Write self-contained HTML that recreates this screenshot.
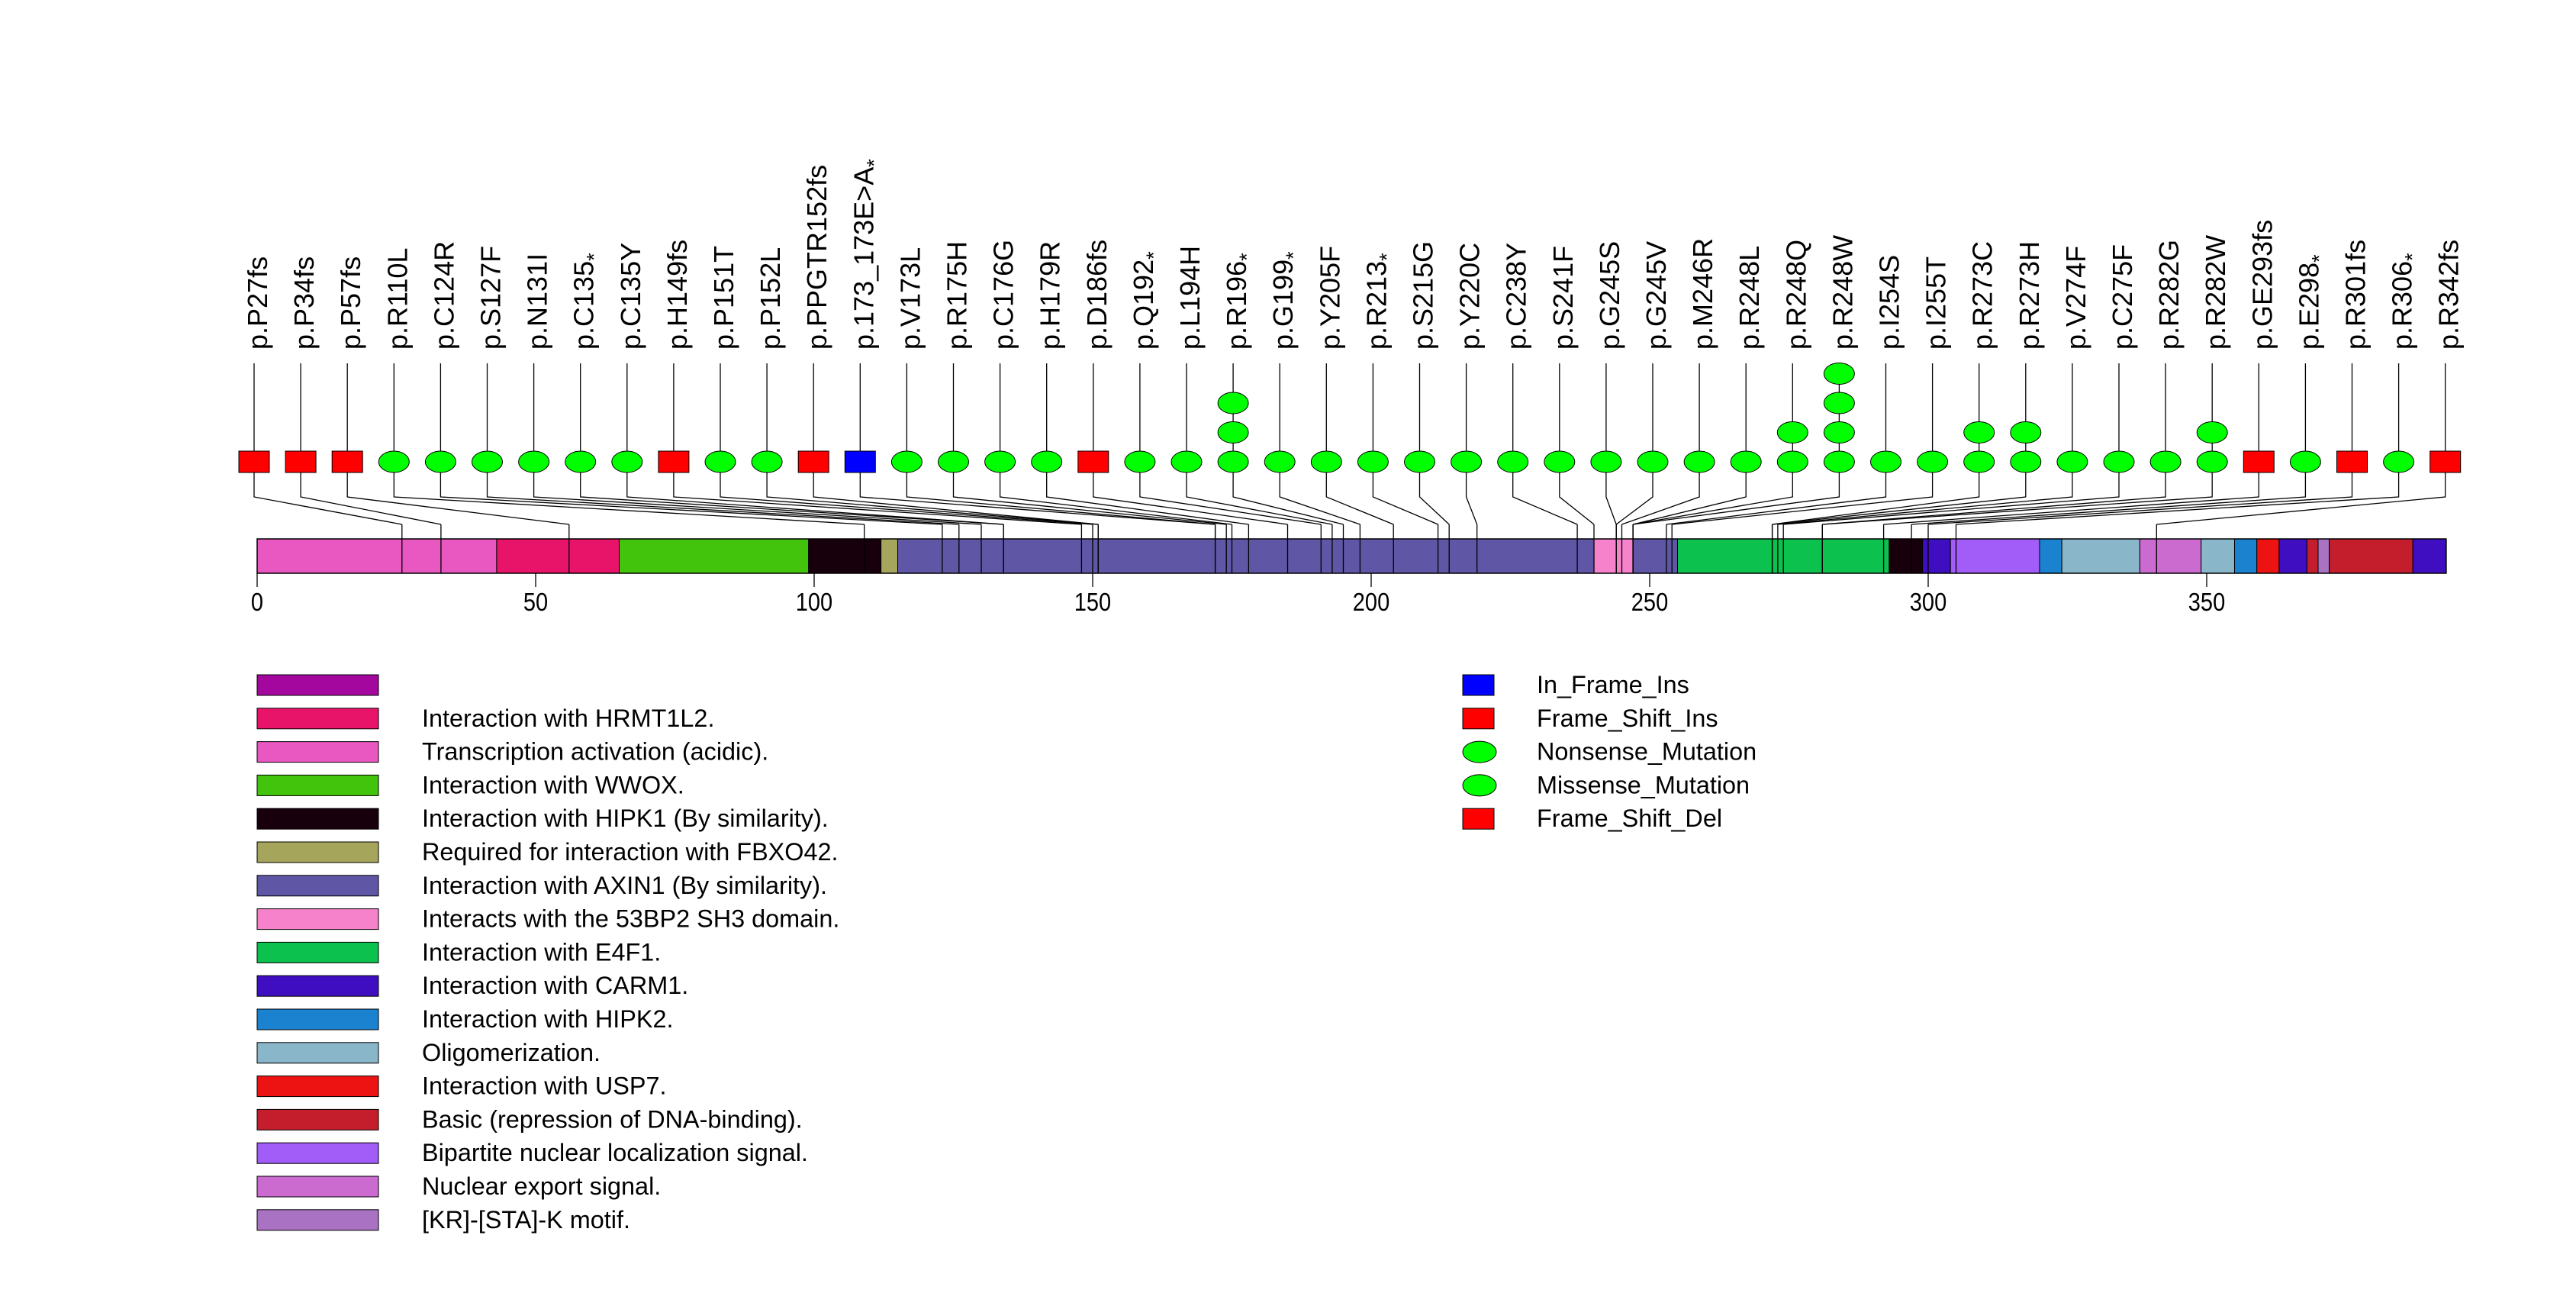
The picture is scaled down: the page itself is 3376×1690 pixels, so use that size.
<!DOCTYPE html>
<html><head><meta charset="utf-8"><style>
html,body{margin:0;padding:0;background:#fff;}
svg{display:block;font-family:"Liberation Sans",sans-serif;}
</style></head><body>
<svg id="chart" width="3376" height="1690" viewBox="0 0 3376 1690" xmlns="http://www.w3.org/2000/svg">
<rect x="0" y="0" width="3376" height="1690" fill="#fff"/>
<g id="links"></g>
<g id="domains"></g>
<g id="posLines"></g>
<g id="markers"></g>
<g id="labels"></g>
<g id="axis"></g>
<g id="legend1"></g>
<g id="legend2"></g>
</svg>
<script>
const mutLabels = ["p.P27fs","p.P34fs","p.P57fs","p.R110L","p.C124R","p.S127F","p.N131I","p.C135*","p.C135Y","p.H149fs","p.P151T","p.P152L","p.PPGTR152fs","p.173_173E>A*","p.V173L","p.R175H","p.C176G","p.H179R","p.D186fs","p.Q192*","p.L194H","p.R196*","p.G199*","p.Y205F","p.R213*","p.S215G","p.Y220C","p.C238Y","p.S241F","p.G245S","p.G245V","p.M246R","p.R248L","p.R248Q","p.R248W","p.I254S","p.I255T","p.R273C","p.R273H","p.V274F","p.C275F","p.R282G","p.R282W","p.GE293fs","p.E298*","p.R301fs","p.R306*","p.R342fs"];
const mutPos = [27,34,57,110,124,127,131,135,135,149,151,152,152,173,173,175,176,179,186,192,194,196,199,205,213,215,220,238,241,245,245,246,248,248,248,254,255,273,273,274,275,282,282,293,298,301,306,342];
const mutCounts = [1,1,1,1,1,1,1,1,1,1,1,1,1,1,1,1,1,1,1,1,1,3,1,1,1,1,1,1,1,1,1,1,1,2,4,1,1,2,2,1,1,1,2,1,1,1,1,1];
const mutTypes = ["fs","fs","fs","m","m","m","m","m","m","fs","m","m","fs","ins","m","m","m","m","fs","m","m","m","m","m","m","m","m","m","m","m","m","m","m","m","m","m","m","m","m","m","m","m","m","fs","m","fs","m","fs"];
const domainStarts = [0,43,65,99,112,115,240,247,255,293,299,304,320,324,338,349,355,359,363,368,370,372,387];
const domainEnds   = [43,65,99,112,115,240,247,255,293,299,304,320,324,338,349,355,359,363,368,370,372,387,393];
const domainColors = ["#E957C0","#E8146A","#42C40C","#17000B","#A5A55C","#5F57A5","#F582CB","#5F57A5","#0DC14E","#17000B","#3F0EC0","#A25CF7","#1B82CF","#8AB6CA","#CB6BD0","#8AB6CA","#1B82CF","#EE1313","#3F0EC0","#C41E2D","#AA72C2","#C41E2D","#3F0EC0"];
const tickValues = [0,50,100,150,200,250,300,350];
const legendLabels = ["","Interaction with HRMT1L2.","Transcription activation (acidic).","Interaction with WWOX.","Interaction with HIPK1 (By similarity).","Required for interaction with FBXO42.","Interaction with AXIN1 (By similarity).","Interacts with the 53BP2 SH3 domain.","Interaction with E4F1.","Interaction with CARM1.","Interaction with HIPK2.","Oligomerization.","Interaction with USP7.","Basic (repression of DNA-binding).","Bipartite nuclear localization signal.","Nuclear export signal.","[KR]-[STA]-K motif."];
const legendColors = ["#A3079E","#E8146A","#E957C0","#42C40C","#17000B","#A5A55C","#5F57A5","#F582CB","#0DC14E","#3F0EC0","#1B82CF","#8AB6CA","#EE1313","#C41E2D","#A25CF7","#CB6BD0","#AA72C2"];
const typeLabels = ["In_Frame_Ins","Frame_Shift_Ins","Nonsense_Mutation","Missense_Mutation","Frame_Shift_Del"];
const typeShapes = ["rect","rect","ellipse","ellipse","rect"];
const typeColors = ["#0000FF","#FF0000","#00FF00","#00FF00","#FF0000"];

const NS = "http://www.w3.org/2000/svg";
const X0 = 337, PX = 7.3;
const barTop = 706, barBot = 751;
const colX = i => 333 + 61.1 * i;
const aaX = a => X0 + a * PX;
const levelY = k => 605 - 38.5 * k;
function mk(tag, attrs, parent) {
  const e = document.createElementNS(NS, tag);
  for (const k in attrs) e.setAttribute(k, attrs[k]);
  parent.appendChild(e);
  return e;
}
const gLinks = document.getElementById('links'), gDom = document.getElementById('domains'),
  gPos = document.getElementById('posLines'), gMk = document.getElementById('markers'),
  gLab = document.getElementById('labels'), gAx = document.getElementById('axis'),
  gL1 = document.getElementById('legend1'), gL2 = document.getElementById('legend2');

mutLabels.forEach((lab, i) => {
  const cx = colX(i), px = aaX(mutPos[i] - 1);
  const pl = mk('polyline', {points: `${cx},476 ${cx},651 ${px},687`, fill: 'none', stroke: '#000', 'stroke-width': 1.3}, gLinks);
  
  
});
domainStarts.forEach((s, i) => {
  const r = mk('rect', {x: aaX(s), y: barTop, width: aaX(domainEnds[i]) - aaX(s), height: barBot - barTop, fill: domainColors[i], stroke: '#000', 'stroke-width': 1}, gDom);
  
  
});
const outline = mk('rect', {x: aaX(0), y: barTop, width: aaX(393) - aaX(0), height: barBot - barTop, fill: 'none', stroke: '#000', 'stroke-width': 1.5}, gDom);


mutPos.forEach((p) => {
  const px = aaX(p - 1);
  const l = mk('line', {x1: px, y1: 687, x2: px, y2: barBot, stroke: '#000', 'stroke-width': 1.3}, gPos);
  
  
});
mutLabels.forEach((lab, i) => {
  const cx = colX(i);
  for (let k = 0; k < mutCounts[i]; k++) {
    const cy = levelY(k);
    let m;
    if (mutTypes[i] === 'm') {
      m = mk('ellipse', {cx: cx, cy: cy, rx: 20, ry: 14, fill: '#00FF00', stroke: '#000', 'stroke-width': 1}, gMk);
    } else {
      m = mk('rect', {x: cx - 20, y: cy - 14, width: 40, height: 28, fill: mutTypes[i] === 'ins' ? '#0000FF' : '#FF0000', stroke: '#000', 'stroke-width': 1}, gMk);
    }
    
    
  }
});
mutLabels.forEach((lab, i) => {
  const cx = colX(i) + 17;
  const t = mk('text', {transform: `translate(${cx},458) rotate(-90)`, 'font-size': 36, fill: '#000'}, gLab);
  
  
  if (lab.endsWith('*')) {
    t.appendChild(document.createTextNode(lab.slice(0, -1)));
    const ts = mk('tspan', {dy: 10, 'font-size': 27}, t);
    ts.textContent = '*';
  } else {
    t.textContent = lab;
  }
});
tickValues.forEach(v => {
  const x = aaX(v);
  const l = mk('line', {x1: x, y1: barBot, x2: x, y2: 769, stroke: '#000', 'stroke-width': 1.3}, gAx);
  
  
  const t = mk('text', {x: x, y: 800, 'font-size': 33, 'text-anchor': 'middle', fill: '#000', transform: `translate(${x},0) scale(0.88,1) translate(${-x},0)`}, gAx);
  t.textContent = v;
  
  
});
legendLabels.forEach((lab, i) => {
  const y = 884 + 43.8 * i;
  const r = mk('rect', {x: 337, y: y, width: 159, height: 27, fill: legendColors[i], stroke: '#000', 'stroke-width': 1}, gL1);
  
  
  const t = mk('text', {x: 553, y: y + 24, 'font-size': 32.4, fill: '#000'}, gL1);
  t.textContent = lab;
  
  
});
typeLabels.forEach((lab, i) => {
  const y = 884 + 43.8 * i;
  let s;
  if (typeShapes[i] === 'rect') {
    s = mk('rect', {x: 1917, y: y, width: 41, height: 27, fill: typeColors[i], stroke: '#000', 'stroke-width': 1}, gL2);
  } else {
    s = mk('ellipse', {cx: 1939, cy: y + 13.5, rx: 22, ry: 14, fill: typeColors[i], stroke: '#000', 'stroke-width': 1}, gL2);
  }
  
  
  const t = mk('text', {x: 2014, y: y + 24, 'font-size': 32.4, fill: '#000'}, gL2);
  t.textContent = lab;
  
  
});
</script>
</body></html>
